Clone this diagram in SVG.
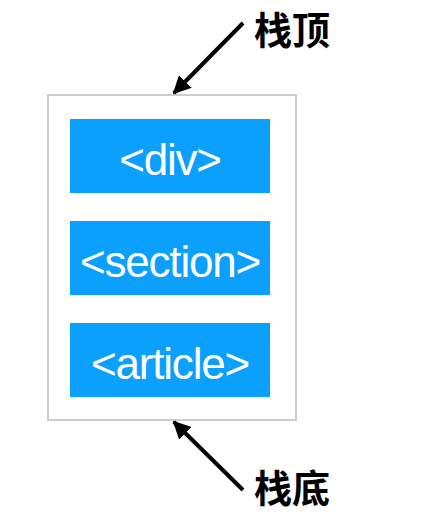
<svg xmlns="http://www.w3.org/2000/svg" width="422" height="524" viewBox="0 0 422 524">
<style>
.box{fill:#0ba0fe}
.lbl{font-family:"Liberation Sans",Arial,sans-serif;font-size:44px;letter-spacing:-1.2px;fill:#fff;text-anchor:middle}
.cap{font-family:"Noto Sans CJK SC","Noto Sans",sans-serif;font-size:38px;font-weight:bold;fill:#000}
.arr{stroke:#000;stroke-width:4;fill:none;marker-end:url(#ah)}
</style>
<defs>
<marker id="ah" viewBox="0 0 10 10" refX="9" refY="5" markerWidth="4.5" markerHeight="4.5" orient="auto" markerUnits="strokeWidth">
<path d="M0,0 L10,5 L0,10 z" fill="#000"/>
</marker>
</defs>
<rect x="48" y="95" width="248" height="325" fill="#fff" stroke="#cccccc" stroke-width="2"/>
<g id="div"><rect class="box" x="70" y="119" width="200" height="74"/><text class="lbl" x="170" y="175">&lt;div&gt;</text></g>
<g id="section"><rect class="box" x="70" y="221" width="200" height="74"/><text class="lbl" x="170" y="277">&lt;section&gt;</text></g>
<g id="article"><rect class="box" x="70" y="323" width="200" height="74"/><text class="lbl" x="170" y="379">&lt;article&gt;</text></g>
<g id="top"><text class="cap" x="254" y="44">栈顶</text></g>
<g id="bottom"><text class="cap" x="254" y="502">栈底</text></g>
<g id="connectors">
<line class="arr" x1="243" y1="23" x2="174" y2="93"/>
<line class="arr" x1="243" y1="490" x2="174" y2="422"/>
</g>
</svg>
